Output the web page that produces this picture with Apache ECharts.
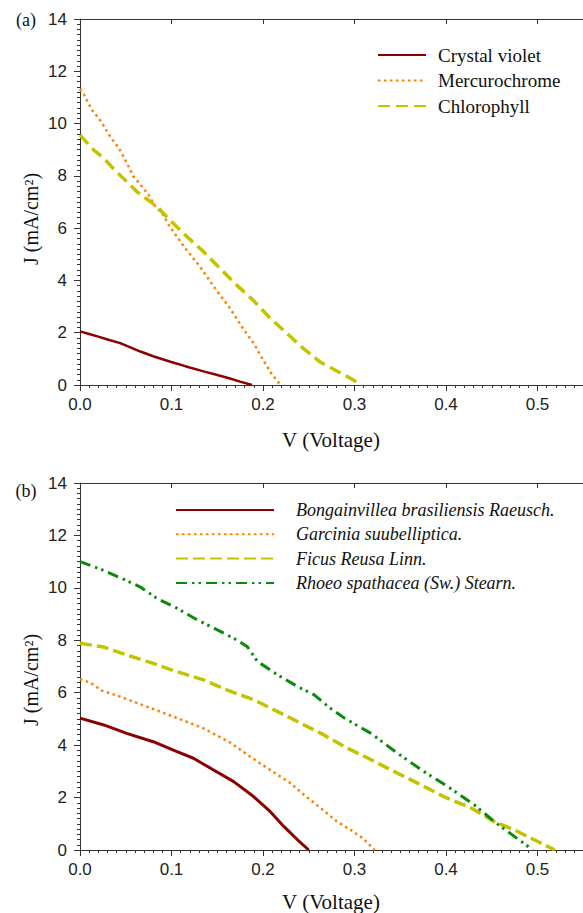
<!DOCTYPE html>
<html>
<head>
<meta charset="utf-8">
<script src="https://cdn.jsdelivr.net/npm/echarts@6/dist/echarts.min.js"></script>
<style>
  html, body { margin: 0; padding: 0; background: #fff; }
  #chart { width: 583px; height: 913px; }
</style>
</head>
<body>
<div id="chart"></div>
<script>
// (a) dyes
const cvV = [0, 0.01, 0.02, 0.03, 0.044, 0.055, 0.066, 0.08, 0.098, 0.115, 0.135, 0.15, 0.164, 0.175, 0.188]
const cvJ = [2.05, 1.95, 1.85, 1.74, 1.6, 1.44, 1.28, 1.1, 0.9, 0.72, 0.52, 0.38, 0.25, 0.13, 0]
const mcV = [0, 0.004, 0.013, 0.021, 0.026, 0.033, 0.042, 0.052, 0.058, 0.067, 0.075, 0.082, 0.091, 0.098, 0.115, 0.131, 0.149, 0.164, 0.178, 0.191, 0.2, 0.209, 0.219]
const mcJ = [11.32, 11.13, 10.52, 10.18, 9.91, 9.5, 9.09, 8.44, 8.0, 7.62, 7.27, 6.85, 6.5, 6.06, 5.23, 4.53, 3.63, 2.93, 2.17, 1.53, 0.96, 0.45, 0]
const chV = [0, 0.015, 0.026, 0.038, 0.051, 0.062, 0.077, 0.086, 0.098, 0.117, 0.135, 0.153, 0.171, 0.189, 0.208, 0.226, 0.244, 0.262, 0.282, 0.296, 0.308]
const chJ = [9.56, 8.99, 8.67, 8.22, 7.78, 7.4, 7.01, 6.76, 6.31, 5.67, 5.1, 4.46, 3.83, 3.25, 2.55, 1.98, 1.4, 0.89, 0.51, 0.25, 0]

// (b) plant extracts
const bgV = [0, 0.026, 0.051, 0.08, 0.106, 0.124, 0.146, 0.168, 0.19, 0.208, 0.223, 0.238, 0.25]
const bgJ = [5.03, 4.77, 4.45, 4.13, 3.75, 3.5, 3.05, 2.61, 2.03, 1.46, 0.89, 0.38, 0]
const gcV = [0, 0.011, 0.024, 0.044, 0.073, 0.102, 0.135, 0.164, 0.186, 0.208, 0.23, 0.245, 0.263, 0.281, 0.296, 0.309, 0.322]
const gcJ = [6.51, 6.39, 6.08, 5.85, 5.47, 5.09, 4.64, 4.1, 3.56, 3.05, 2.55, 2.1, 1.6, 1.08, 0.76, 0.45, 0]
const fcV = [0, 0.026, 0.051, 0.08, 0.106, 0.135, 0.161, 0.19, 0.216, 0.245, 0.266, 0.289, 0.315, 0.34, 0.369, 0.398, 0.428, 0.453, 0.475, 0.497, 0.519]
const fcJ = [7.89, 7.74, 7.44, 7.12, 6.8, 6.49, 6.1, 5.73, 5.28, 4.77, 4.4, 3.94, 3.5, 3.05, 2.55, 2.03, 1.59, 1.08, 0.76, 0.38, 0]
const rsV = [0, 0.024, 0.049, 0.066, 0.084, 0.106, 0.128, 0.15, 0.172, 0.183, 0.194, 0.208, 0.216, 0.238, 0.256, 0.272, 0.289, 0.318, 0.347, 0.376, 0.402, 0.431, 0.453, 0.475, 0.495]
const rsJ = [11.0, 10.69, 10.31, 10.03, 9.6, 9.22, 8.78, 8.4, 8.0, 7.75, 7.19, 6.87, 6.68, 6.23, 5.92, 5.45, 5.03, 4.45, 3.69, 2.99, 2.42, 1.72, 1.08, 0.51, 0]

const namesA = ['Crystal violet', 'Mercurochrome', 'Chlorophyll']
const namesB = ['Bongainvillea brasiliensis Raeusch.', 'Garcinia suubelliptica.', 'Ficus Reusa Linn.', 'Rhoeo spathacea (Sw.) Stearn.']
const xTicks = { min: 0, max: 0.6, interval: 0.1 }
const yTicks = { min: 0, max: 14, interval: 2 }

const zip = (xs, ys) => xs.map((x, i) => [x, ys[i]])

const RED = '#8b0000'
const ORANGE = '#ff8000'
const YELLOW = '#c3c300'
const GREEN = '#0a8a0a'
const SANS = '"Liberation Sans", Arial, sans-serif'
const SERIF = '"Liberation Serif", "Times New Roman", serif'

function bottomAxis (gi) {
  return {
    gridIndex: gi,
    type: 'value',
    min: xTicks.min,
    max: xTicks.max,
    interval: xTicks.interval,
    axisLine: { lineStyle: { color: '#333', width: 1 } },
    axisTick: { inside: false, length: 6, lineStyle: { color: '#333' } },
    minorTick: { show: true, splitNumber: 10, length: 3, lineStyle: { color: '#333' } },
    axisLabel: {
      margin: 11,
      fontSize: 17,
      fontFamily: SANS,
      color: '#222',
      showMaxLabel: false,
      formatter: v => v.toFixed(1)
    },
    splitLine: { show: false }
  }
}
function topAxis (gi) {
  return {
    gridIndex: gi,
    type: 'value',
    position: 'top',
    min: xTicks.min,
    max: xTicks.max,
    interval: xTicks.interval,
    axisLine: { lineStyle: { color: '#333', width: 1 } },
    axisTick: { inside: true, length: 5, lineStyle: { color: '#333' } },
    axisLabel: { show: false },
    splitLine: { show: false }
  }
}
function leftAxis (gi) {
  return {
    gridIndex: gi,
    type: 'value',
    min: yTicks.min,
    max: yTicks.max,
    interval: yTicks.interval,
    axisLine: { show: true, lineStyle: { color: '#333', width: 1 } },
    axisTick: { show: true, inside: false, length: 6, lineStyle: { color: '#333' } },
    minorTick: { show: true, splitNumber: 10, length: 3, lineStyle: { color: '#333' } },
    axisLabel: { margin: 13, fontSize: 17, fontFamily: SANS, color: '#222' },
    splitLine: { show: false }
  }
}

function line (name, data, xi, yi, color, width, type) {
  return {
    name: name,
    type: 'line',
    xAxisIndex: xi,
    yAxisIndex: yi,
    data: data,
    symbol: 'none',
    smooth: false,
    color: color,
    lineStyle: { color: color, width: width, type: type },
    animation: false
  }
}

function label (text, x, y, size, rot) {
  return {
    type: 'text',
    x: x,
    y: y,
    rotation: rot || 0,
    style: {
      text: text,
      fontSize: size,
      fontFamily: SERIF,
      fill: '#111',
      align: 'center',
      verticalAlign: 'middle'
    }
  }
}

const chart = echarts.init(document.getElementById('chart'), null, { renderer: 'svg' })
chart.setOption({
  backgroundColor: '#fff',
  animation: false,
  grid: [
    { left: 80, top: 19, width: 549, height: 366, outerBoundsMode: 'none' },
    { left: 80, top: 483, width: 549, height: 367, outerBoundsMode: 'none' }
  ],
  xAxis: [bottomAxis(0), topAxis(0), bottomAxis(1), topAxis(1)],
  yAxis: [leftAxis(0), leftAxis(1)],
  legend: [
    {
      data: namesA,
      orient: 'vertical',
      left: 377,
      top: 45.5,
      padding: 0,
      itemWidth: 48,
      itemHeight: 14,
      itemGap: 6.5,
      itemStyle: { opacity: 0, borderWidth: 0 },
      textStyle: { fontFamily: SERIF, fontSize: 19, lineHeight: 19, color: '#111', padding: [0, 0, 0, 7] }
    },
    {
      data: namesB,
      orient: 'vertical',
      left: 175,
      top: 501,
      padding: 0,
      itemWidth: 98,
      itemHeight: 14,
      itemGap: 6.3,
      itemStyle: { opacity: 0, borderWidth: 0 },
      textStyle: { fontFamily: SERIF, fontStyle: 'italic', fontSize: 18, lineHeight: 18, color: '#111', padding: [0, 0, 0, 17] }
    }
  ],
  series: [
    line(namesA[0], zip(cvV, cvJ), 0, 0, RED, 2.5, 'solid'),
    line(namesA[1], zip(mcV, mcJ), 0, 0, ORANGE, 2.5, [2.5, 3.5]),
    line(namesA[2], zip(chV, chJ), 0, 0, YELLOW, 3.5, [12, 6]),
    line(namesB[0], zip(bgV, bgJ), 2, 1, RED, 3, 'solid'),
    line(namesB[1], zip(gcV, gcJ), 2, 1, ORANGE, 2.5, [2.5, 3.5]),
    line(namesB[2], zip(fcV, fcJ), 2, 1, YELLOW, 3.5, [12, 5]),
    line(namesB[3], zip(rsV, rsJ), 2, 1, GREEN, 3, [11, 5, 2.5, 4, 2.5, 5])
  ],
  graphic: [
    label('(a)', 26, 20, 18),
    label('(b)', 26, 491, 18),
    label('V (Voltage)', 331, 440, 21),
    label('V (Voltage)', 331, 902, 21),
    label('J (mA/cm²)', 31, 219, 20, Math.PI / 2),
    label('J (mA/cm²)', 31, 680, 20, Math.PI / 2)
  ]
})
window.onresize = function () {
  chart.resize()
}
</script>
</body>
</html>
